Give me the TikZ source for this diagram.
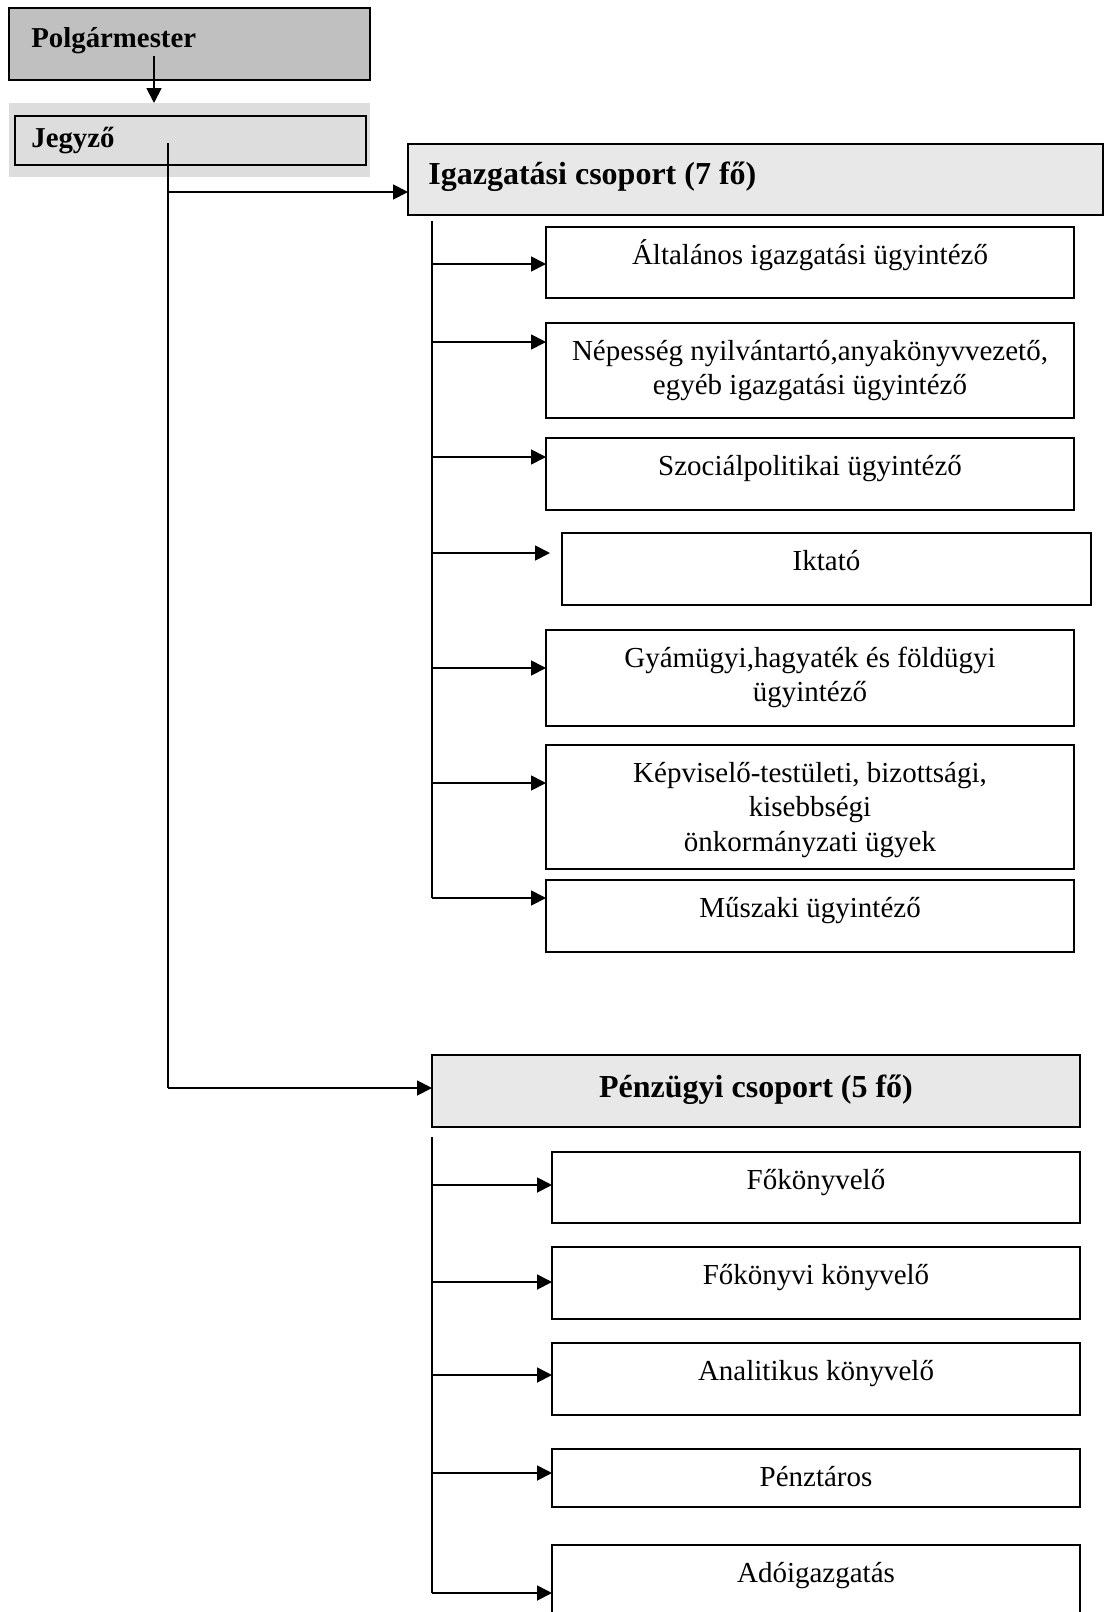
\documentclass[tikz,border=0pt]{standalone}
\usepackage{fontspec}
\setmainfont{Liberation Serif}
\usetikzlibrary{arrows.meta,calc}
\definecolor{polgfill}{HTML}{C0C0C0}
\definecolor{jegyfill}{HTML}{DDDDDD}
\definecolor{grpfill}{HTML}{E8E8E8}
\newcommand\firstl{\rule{0pt}{14pt}}
\begin{document}
\begin{tikzpicture}[x=0.5pt,y=-0.5pt,
  frame/.style={draw=black, line width=0.8pt, anchor=north west, inner sep=0pt, outer sep=0pt},
  cbox/.style={frame, minimum width=264pt},
  ctext/.style={anchor=north, inner sep=0pt, align=center, font=\fontsize{14.5}{17.25}\selectfont, yshift=-4.5pt},
  htext/.style={anchor=base west, inner sep=0pt, font=\bfseries\fontsize{14.4}{16}\selectfont},
  gtext/.style={inner sep=0pt, font=\bfseries\fontsize{16}{18}\selectfont},
  conn/.style={line width=0.9pt},
  arr/.style={conn, -{Triangle[length=7.5pt,width=7.5pt]}}]
\useasboundingbox (0,0) rectangle (1104,1612);
\clip (0,0) rectangle (1104,1612);

% top
\node[frame, fill=polgfill, minimum width=180.5pt, minimum height=36pt] (polg) at (9,8) {};
\node[htext] (polgt) at (31,47) {Polgármester};
\node[anchor=north west, fill=jegyfill, inner sep=0pt, minimum width=180.5pt, minimum height=37pt] (jback) at (9,103) {};
\node[frame, fill=jegyfill, minimum width=175.5pt, minimum height=24.5pt] (jegy) at (15,116) {};
\node[htext] (jegyt) at (31,147) {Jegyző};

\coordinate (pa) at (154,56);
\draw[arr] (pa) -- (pa |- jback.north);

% group headers
\node[frame, fill=grpfill, minimum width=347.5pt, minimum height=35.5pt] (igaz) at (408,144) {};
\node[gtext, anchor=base west] (igazt) at (428,184) {Igazgatási csoport (7 fő)};
\node[frame, fill=grpfill, minimum width=324pt, minimum height=36pt] (penz) at (432,1055) {};
\node[gtext, anchor=base] (penzt) at (756,1097) {Pénzügyi csoport (5 fő)};

% Jegyzo trunk
\coordinate (ja) at (168,143);
\coordinate (jb) at (168,192);
\coordinate (jc) at (168,1088);
\draw[conn] (ja) -- (jc);
\draw[arr] (jb) -- (jb -| igaz.west);
\draw[arr] (jc) -- (jc -| penz.west);

% Igazgatasi children
\node[cbox, minimum height=35.5pt] (i1) at (546,227) {};
\node[cbox, minimum height=47.5pt] (i2) at (546,323) {};
\node[cbox, minimum height=36pt] (i3) at (546,438) {};
\node[cbox, minimum width=264.5pt, minimum height=36pt] (i4) at (562,533) {};
\node[cbox, minimum height=48pt] (i5) at (546,630) {};
\node[cbox, minimum height=62pt] (i6) at (546,745) {};
\node[cbox, minimum height=36pt] (i7) at (546,880) {};

\node[ctext] (i1t) at (i1.north) {\firstl Általános igazgatási ügyintéző};
\node[ctext] (i2t) at (i2.north) {\firstl Népesség nyilvántartó,anyakönyvvezető,\\ egyéb igazgatási ügyintéző};
\node[ctext] (i3t) at (i3.north) {\firstl Szociálpolitikai ügyintéző};
\node[ctext] (i4t) at (i4.north) {\firstl Iktató};
\node[ctext] (i5t) at (i5.north) {\firstl Gyámügyi,hagyaték és földügyi\\ ügyintéző};
\node[ctext] (i6t) at (i6.north) {\firstl Képviselő-testületi, bizottsági,\\ kisebbségi\\ önkormányzati ügyek};
\node[ctext] (i7t) at (i7.north) {\firstl Műszaki ügyintéző};

\coordinate (ib) at (432,221);
\coordinate (ie) at (432,898);
\draw[conn] (ib) -- (ie);
\draw[arr] (432,264) -- (i1.west |- 0,264);
\draw[arr] (432,342) -- (i2.west |- 0,342);
\draw[arr] (432,457) -- (i3.west |- 0,457);
\coordinate (i4a) at (550,553);
\draw[arr] (432,553) -- (i4a);
\draw[arr] (432,668) -- (i5.west |- 0,668);
\draw[arr] (432,783) -- (i6.west |- 0,783);
\draw[arr] (ie) -- (i7.west |- ie);

% Penzugyi children
\node[cbox, minimum height=35.5pt] (p1) at (552,1152) {};
\node[cbox, minimum height=36pt] (p2) at (552,1247) {};
\node[cbox, minimum height=36pt] (p3) at (552,1343) {};
\node[cbox, minimum height=29pt] (p4) at (552,1449) {};
\node[cbox, minimum height=50pt] (p5) at (552,1545) {};

\node[ctext] (p1t) at (p1.north) {\firstl Főkönyvelő};
\node[ctext] (p2t) at (p2.north) {\firstl Főkönyvi könyvelő};
\node[ctext] (p3t) at (p3.north) {\firstl Analitikus könyvelő};
\node[ctext] (p4t) at (p4.north) {\firstl Pénztáros};
\node[ctext] (p5t) at (p5.north) {\firstl Adóigazgatás};

\coordinate (pb) at (432,1137);
\coordinate (pe) at (432,1593);
\draw[conn] (pb) -- (pe);
\draw[arr] (432,1185) -- (p1.west |- 0,1185);
\draw[arr] (432,1282) -- (p2.west |- 0,1282);
\draw[arr] (432,1375) -- (p3.west |- 0,1375);
\draw[arr] (432,1473) -- (p4.west |- 0,1473);
\draw[arr] (pe) -- (p5.west |- pe);
\end{tikzpicture}
\end{document}
